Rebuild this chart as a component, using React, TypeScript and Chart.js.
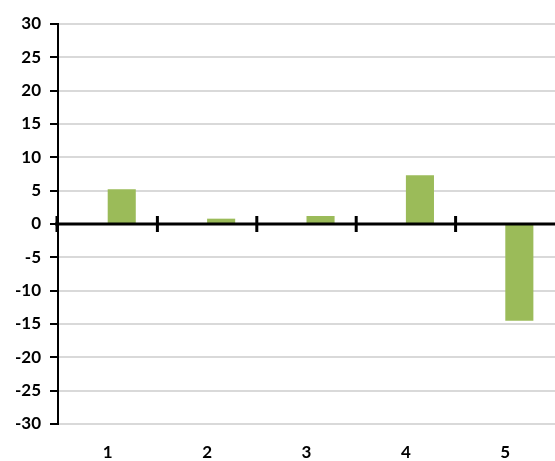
import React, { useEffect, useRef } from "react";
import { Chart, registerables } from "chart.js";

Chart.register(...registerables);

const categories = ["1", "2", "3", "4", "5"];
const emptySeries = [null, null, null, null, null];
const values = [5.2, 0.8, 1.2, 7.3, -14.5];
const yMin = -30;
const yMax = 30;
const yStep = 5;

const zeroLinePlugin = {
  id: "zeroLine",
  afterDatasetsDraw(chart: any) {
    const { ctx, chartArea, scales } = chart;
    const y0 = scales.y.getPixelForValue(0);
    ctx.save();
    ctx.strokeStyle = "#000";
    ctx.lineWidth = 3;
    ctx.beginPath();
    ctx.moveTo(chartArea.left - 3, y0);
    ctx.lineTo(chartArea.right, y0);
    ctx.stroke();
    const x = scales.x;
    ctx.lineWidth = 3;
    for (let i = 0; i < categories.length; i++) {
      const px = i === 0 ? chartArea.left - 1 : (x.getPixelForValue(i - 1) + x.getPixelForValue(i)) / 2;
      ctx.beginPath();
      ctx.moveTo(px, y0 - 8);
      ctx.lineTo(px, y0 + 8);
      ctx.stroke();
    }
    ctx.restore();
  },
};

export default function App() {
  const ref = useRef<HTMLCanvasElement>(null);
  useEffect(() => {
    const font = { family: "Lato, 'Open Sans', sans-serif", size: 17, weight: "bold" as const };
    const chart = new Chart(ref.current!, {
      type: "bar",
      data: {
        labels: categories,
        datasets: [
          { data: emptySeries as any, backgroundColor: "#4F81BD" },
          { data: values, backgroundColor: "#9BBB59" },
        ],
      },
      options: {
        animation: false,
        responsive: false,
        maintainAspectRatio: false,
        layout: { padding: { top: 24, right: 0, left: 0, bottom: 0 } },
        plugins: { legend: { display: false }, tooltip: { enabled: false } },
        datasets: { bar: { barPercentage: 1, categoryPercentage: 0.565 } },
        scales: {
          x: {
            grid: { display: false, drawTicks: false },
            border: { display: false },
            ticks: { color: "#000", font, padding: 18, maxRotation: 0 },
            afterFit: (s: any) => { s.height = 37; },
          },
          y: {
            min: yMin,
            max: yMax,
            ticks: { stepSize: yStep, color: "#000", font, padding: 9 },
            grid: { color: "#d9d9d9", lineWidth: 2, tickColor: "#000", tickLength: 8, tickWidth: 2 },
            border: { color: "#000", width: 2 },
            afterFit: (s: any) => { s.width = 58; },
          },
        },
      },
      plugins: [zeroLinePlugin],
    });
    return () => chart.destroy();
  }, []);
  return (
    <div style={{ position: "fixed", left: 0, top: 0, width: 555, height: 461, background: "#fff" }}>
      <canvas ref={ref} width={555} height={461} style={{ display: "block" }} />
    </div>
  );
}
